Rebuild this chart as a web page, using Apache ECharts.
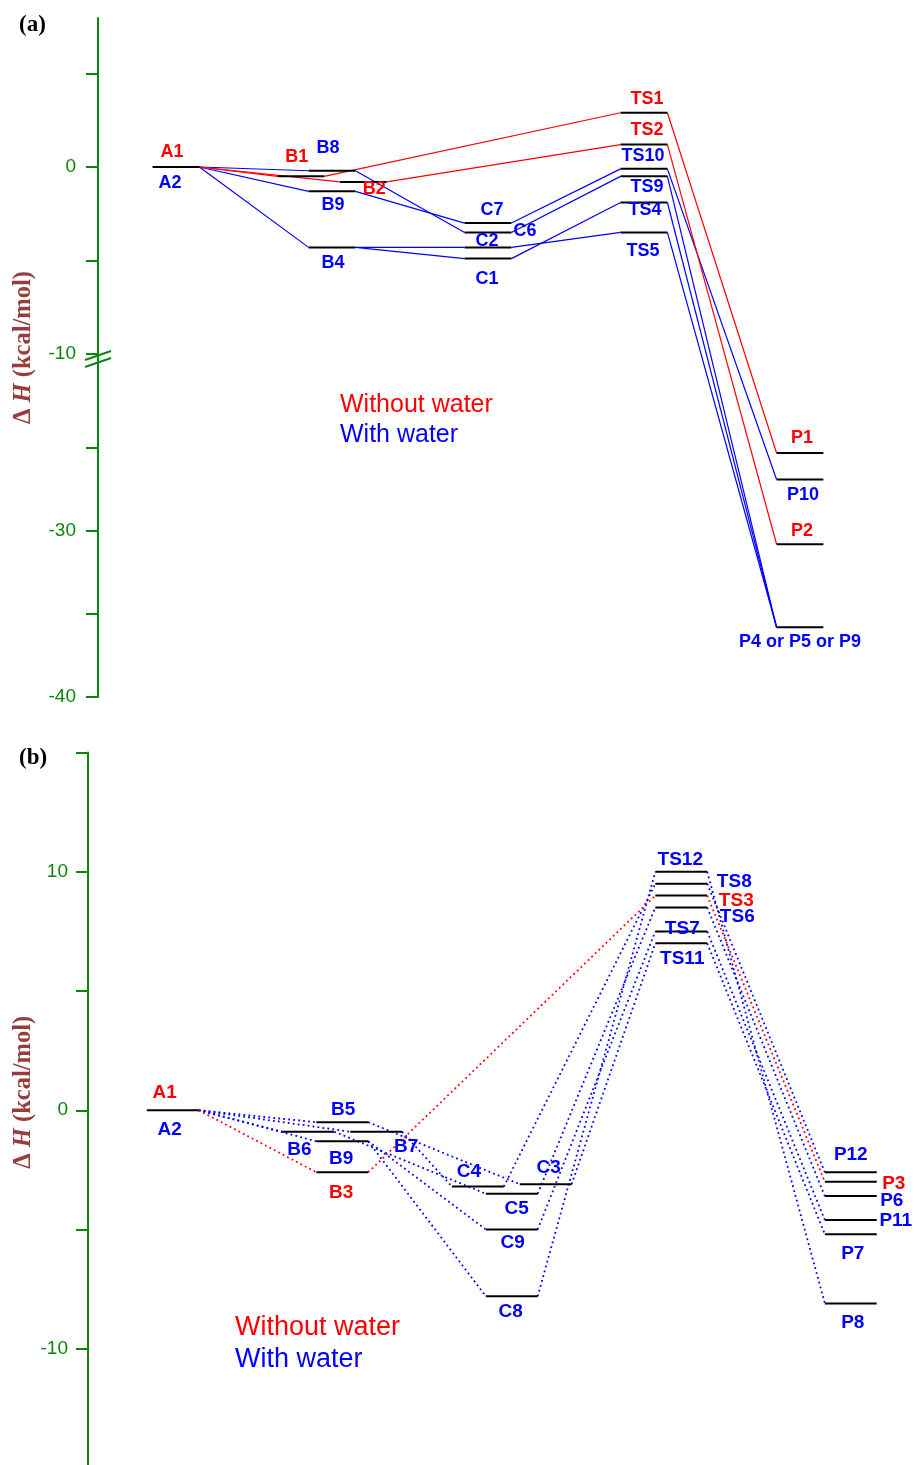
<!DOCTYPE html>
<html>
<head>
<meta charset="utf-8">
<script src="https://cdn.jsdelivr.net/npm/echarts@6/dist/echarts.min.js"></script>
<style>
html, body { margin: 0; padding: 0; background: #fff; }
#main { width: 914px; height: 1465px; }
</style>
</head>
<body>
<div id="main"></div>
<script>
"use strict";

// ---------- panel (a) ----------
// energy levels : name, reaction coordinate column, dH (kcal/mol)
var namesA = ['A', 'B1', 'B8', 'B2', 'B9', 'B4', 'C7', 'C6', 'C2', 'C1',
  'TS1', 'TS2', 'TS10', 'TS9', 'TS4', 'TS5', 'P1', 'P10', 'P2', 'P4'];
var colsA = [0, 0.8, 1, 1.2, 1, 1, 2, 2, 2, 2, 3, 3, 3, 3, 3, 3, 4, 4, 4, 4];
var dHA = [0, -0.5, -0.2, -0.8, -1.3, -4.3, -3.0, -3.5, -4.3, -4.9,
  2.9, 1.2, -0.1, -0.5, -1.9, -3.5, -25.3, -26.9, -30.8, -35.8];
// reaction paths
var dryPathsA = [['A', 'B1'], ['A', 'B2'], ['B1', 'TS1'], ['B2', 'TS2'], ['TS1', 'P1'], ['TS2', 'P2']];
var wetPathsA = [['A', 'B8'], ['A', 'B9'], ['A', 'B4'], ['B8', 'C6'], ['B9', 'C7'], ['B4', 'C2'], ['B4', 'C1'],
  ['C7', 'TS10'], ['C6', 'TS9'], ['C2', 'TS5'], ['C1', 'TS4'],
  ['TS10', 'P10'], ['TS9', 'P4'], ['TS4', 'P4'], ['TS5', 'P4']];
// species labels
var tagsA = ['A1', 'A2', 'B1', 'B8', 'B2', 'B9', 'B4', 'C7', 'C6', 'C2', 'C1',
  'TS1', 'TS2', 'TS10', 'TS9', 'TS4', 'TS5', 'P1', 'P10', 'P2', 'P4 or P5 or P9'];
var tagLevelA = ['A', 'A', 'B1', 'B8', 'B2', 'B9', 'B4', 'C7', 'C6', 'C2', 'C1',
  'TS1', 'TS2', 'TS10', 'TS9', 'TS4', 'TS5', 'P1', 'P10', 'P2', 'P4'];
var tagDryA = [1, 0, 1, 0, 1, 0, 0, 0, 0, 0, 0, 1, 1, 0, 0, 0, 0, 1, 0, 1, 0];
var tickValsA = [5, 0, -5, -10, -25, -30, -35, -40];
var labelValsA = [0, -10, -30, -40];

// ---------- panel (b) ----------
var namesB = ['A', 'B5', 'B6', 'B7', 'B9', 'B3', 'C4', 'C3', 'C5', 'C9', 'C8',
  'TS12', 'TS8', 'TS3', 'TS6', 'TS7', 'TS11', 'P12', 'P3', 'P6', 'P11', 'P7', 'P8'];
var colsB = [0, 1, 0.8, 1.2, 1, 1, 1.8, 2.2, 2, 2, 2, 3, 3, 3, 3, 3, 3, 4, 4, 4, 4, 4, 4];
var dHB = [0, -0.5, -0.9, -0.9, -1.3, -2.6, -3.2, -3.1, -3.5, -5.0, -7.8,
  10.0, 9.5, 9.0, 8.5, 7.5, 7.0, -2.6, -3.0, -3.6, -4.6, -5.2, -8.1];
var dryPathsB = [['A', 'B3'], ['B3', 'TS3'], ['TS3', 'P3']];
var wetPathsB = [['A', 'B5'], ['A', 'B6'], ['A', 'B7'], ['A', 'B9'],
  ['B5', 'C3'], ['B6', 'C5'], ['B7', 'C4'], ['B9', 'C9'], ['B9', 'C8'],
  ['C4', 'TS8'], ['C3', 'TS11'], ['C5', 'TS6'], ['C9', 'TS7'], ['C8', 'TS12'],
  ['TS12', 'P8'], ['TS8', 'P12'], ['TS6', 'P6'], ['TS7', 'P11'], ['TS11', 'P7']];
var tagsB = ['A1', 'A2', 'B5', 'B6', 'B7', 'B9', 'B3', 'C4', 'C3', 'C5', 'C9', 'C8',
  'TS12', 'TS8', 'TS3', 'TS6', 'TS7', 'TS11', 'P12', 'P3', 'P6', 'P11', 'P7', 'P8'];
var tagLevelB = ['A', 'A', 'B5', 'B6', 'B7', 'B9', 'B3', 'C4', 'C3', 'C5', 'C9', 'C8',
  'TS12', 'TS8', 'TS3', 'TS6', 'TS7', 'TS11', 'P12', 'P3', 'P6', 'P11', 'P7', 'P8'];
var tagDryB = [1, 0, 0, 0, 0, 0, 1, 0, 0, 0, 0, 0, 0, 0, 1, 0, 0, 0, 0, 1, 0, 0, 0, 0];
var tickValsB = [15, 10, 5, 0, -5, -10, -15];
var labelValsB = [10, 0, -10];

// label offsets (px) from level centre
var tagPosA = {
  'A1': [-4, -15], 'A2': [-6, 16], 'B1': [-4, -19], 'B8': [-4, -23], 'B2': [11, 7], 'B9': [1, 14], 'B4': [1, 16],
  'C7': [4, -13], 'C6': [37, -1], 'C2': [-1, -6], 'C1': [-1, 20],
  'TS1': [3, -14], 'TS2': [3, -15], 'TS10': [-1, -13], 'TS9': [3, 11], 'TS4': [1, 8], 'TS5': [-1, 19],
  'P1': [2, -15], 'P10': [3, 16], 'P2': [2, -13], 'P4 or P5 or P9': [0, 15]
};
var tagPosB = {
  'A1': [-8, -17], 'A2': [-3, 20], 'B5': [1, -12], 'B6': [-9, 18], 'B7': [30, 15], 'B9': [-1, 18], 'B3': [-1, 21],
  'C4': [-9, -15], 'C3': [3, -16], 'C5': [5, 15], 'C9': [1, 13], 'C8': [-1, 15],
  'TS12': [-1, -12], 'TS8': [53, -2], 'TS3': [55, 5], 'TS6': [56, 9], 'TS7': [1, -3], 'TS11': [1, 15],
  'P12': [0, -17], 'P3': [43, 2], 'P6': [41, 5], 'P11': [45, 1], 'P7': [2, 19], 'P8': [2, 19]
};

var RED = '#ff0000', BLUE = '#0000ff', GREEN = '#0a870a', BROWN = '#983c3c';
var SANS = '"Liberation Sans", Arial, sans-serif';
var SERIF = '"Liberation Serif", "Times New Roman", serif';

// broken axis in panel (a): -10 .. -20 is cut out, lower part drawn a bit tighter
var CUT = -10.59, SQ = 0.888;
function dispA(e) { return e >= -10 ? e : CUT + (e + 20) * SQ; }
function realA(d) { return d >= -10.3 ? d : -20 + (d - CUT) / SQ; }
function same(e) { return e; }

function levelSeries(ai, names, cols, dH, disp, hw) {
  return {
    type: 'custom', xAxisIndex: ai, yAxisIndex: ai, z: 3, silent: true,
    data: names.map(function (n, i) { return [cols[i], disp(dH[i])]; }),
    renderItem: function (params, api) {
      var p1 = api.coord([api.value(0) - hw, api.value(1)]);
      var p2 = api.coord([api.value(0) + hw, api.value(1)]);
      return { type: 'line', shape: { x1: p1[0], y1: p1[1], x2: p2[0], y2: p2[1] },
        style: { stroke: '#000', lineWidth: 2 } };
    }
  };
}

function pathSeries(ai, paths, names, cols, dH, disp, hw, color, dash) {
  var data = paths.map(function (p) {
    var a = names.indexOf(p[0]), b = names.indexOf(p[1]);
    return [cols[a] + hw, disp(dH[a]), cols[b] - hw, disp(dH[b])];
  });
  return {
    type: 'custom', xAxisIndex: ai, yAxisIndex: ai, z: 2, silent: true,
    data: data, encode: { x: [0, 2], y: [1, 3] },
    renderItem: function (params, api) {
      var p1 = api.coord([api.value(0), api.value(1)]);
      var p2 = api.coord([api.value(2), api.value(3)]);
      return { type: 'line', shape: { x1: p1[0], y1: p1[1], x2: p2[0], y2: p2[1] },
        style: { stroke: color, lineWidth: dash ? 1.8 : 1.2, lineDash: dash || null } };
    }
  };
}

function tagSeries(ai, tags, levelOf, dry, names, cols, dH, disp, pos, size) {
  return {
    type: 'custom', xAxisIndex: ai, yAxisIndex: ai, z: 5, silent: true,
    data: tags.map(function (t, i) {
      var k = names.indexOf(levelOf[i]);
      return [cols[k], disp(dH[k])];
    }),
    renderItem: function (params, api) {
      var p = api.coord([api.value(0), api.value(1)]);
      var t = tags[params.dataIndex], o = pos[t];
      return { type: 'text', x: p[0] + o[0], y: p[1] + o[1],
        style: { text: t, fill: dry[params.dataIndex] ? RED : BLUE,
          font: 'bold ' + size + 'px ' + SANS, align: 'center', verticalAlign: 'middle' } };
    }
  };
}

function yAxisOf(gi, min, max, ticks, labels, disp, toReal, margin, gap, padLeft) {
  return {
    gridIndex: gi, type: 'value', min: min, max: max,
    axisLine: { show: true, onZero: false, lineStyle: { color: GREEN, width: 2 } },
    axisTick: { show: true, length: 12, customValues: ticks.map(disp), lineStyle: { color: GREEN, width: 2 } },
    axisLabel: { customValues: labels.map(disp), color: GREEN, fontSize: 19, fontFamily: SANS, margin: margin,
      formatter: function (v) { return String(Math.round(toReal(v))); } },
    splitLine: { show: false },
    name: '{d|\u0394 }{h|H}{d| (kcal/mol)}',
    nameLocation: 'middle', nameRotate: 90, nameGap: gap, nameMoveOverlap: false,
    nameTextStyle: {
      padding: [0, 0, 0, padLeft],
      rich: {
        d: { fontFamily: SERIF, fontWeight: 'bold', fontSize: 24.5, color: BROWN },
        h: { fontFamily: SERIF, fontWeight: 'bold', fontStyle: 'italic', fontSize: 24.5, color: BROWN }
      }
    }
  };
}

var hwA = 0.15, hwB = 0.153;
var chart = echarts.init(document.getElementById('main'));

chart.setOption({
  animation: false,
  backgroundColor: '#fff',
  grid: [
    { left: 98, top: 18, width: 811.2, height: 679, containLabel: false, outerBoundsMode: 'none' },
    { left: 88, top: 752.5, width: 825.5, height: 715.5, containLabel: false, outerBoundsMode: 'none' }
  ],
  xAxis: [
    { gridIndex: 0, type: 'value', min: -0.5, max: 4.7, show: false },
    { gridIndex: 1, type: 'value', min: -0.5, max: 4.37, show: false }
  ],
  yAxis: [
    yAxisOf(0, dispA(-40), 7.97, tickValsA, labelValsA, dispA, realA, 22, 62, 20),
    yAxisOf(1, -15, 15, tickValsB, labelValsB, same, same, 20, 52, 36)
  ],
  series: [
    pathSeries(0, wetPathsA, namesA, colsA, dHA, dispA, hwA, BLUE, null),
    pathSeries(0, dryPathsA, namesA, colsA, dHA, dispA, hwA, RED, null),
    levelSeries(0, namesA, colsA, dHA, dispA, hwA),
    tagSeries(0, tagsA, tagLevelA, tagDryA, namesA, colsA, dHA, dispA, tagPosA, 18),
    pathSeries(1, wetPathsB, namesB, colsB, dHB, same, hwB, BLUE, [1.8, 3.2]),
    pathSeries(1, dryPathsB, namesB, colsB, dHB, same, hwB, RED, [1.8, 3.2]),
    levelSeries(1, namesB, colsB, dHB, same, hwB),
    tagSeries(1, tagsB, tagLevelB, tagDryB, namesB, colsB, dHB, same, tagPosB, 19)
  ]
});

// break marks on the axis of panel (a), legend words, panel letters
var brk = chart.convertToPixel({ xAxisIndex: 0, yAxisIndex: 0 }, [-0.5, dispA(-10)]);
chart.setOption({
  graphic: [
    { type: 'line', shape: { x1: brk[0] - 13, y1: brk[1] + 6, x2: brk[0] + 13, y2: brk[1] - 3 },
      style: { stroke: GREEN, lineWidth: 2 } },
    { type: 'line', shape: { x1: brk[0] - 13, y1: brk[1] + 13, x2: brk[0] + 13, y2: brk[1] + 4 },
      style: { stroke: GREEN, lineWidth: 2 } },
    { type: 'text', x: 19, y: 25, style: { text: '(a)', font: 'bold 23px ' + SERIF, fill: '#000', verticalAlign: 'middle' } },
    { type: 'text', x: 19, y: 758, style: { text: '(b)', font: 'bold 23px ' + SERIF, fill: '#000', verticalAlign: 'middle' } },
    { type: 'text', x: 340, y: 405, style: { text: 'Without water', font: '25px ' + SANS, fill: RED, verticalAlign: 'middle' } },
    { type: 'text', x: 340, y: 435, style: { text: 'With water', font: '25px ' + SANS, fill: BLUE, verticalAlign: 'middle' } },
    { type: 'text', x: 235, y: 1328, style: { text: 'Without water', font: '27px ' + SANS, fill: RED, verticalAlign: 'middle' } },
    { type: 'text', x: 235, y: 1360, style: { text: 'With water', font: '27px ' + SANS, fill: BLUE, verticalAlign: 'middle' } }
  ]
});
</script>
</body>
</html>
